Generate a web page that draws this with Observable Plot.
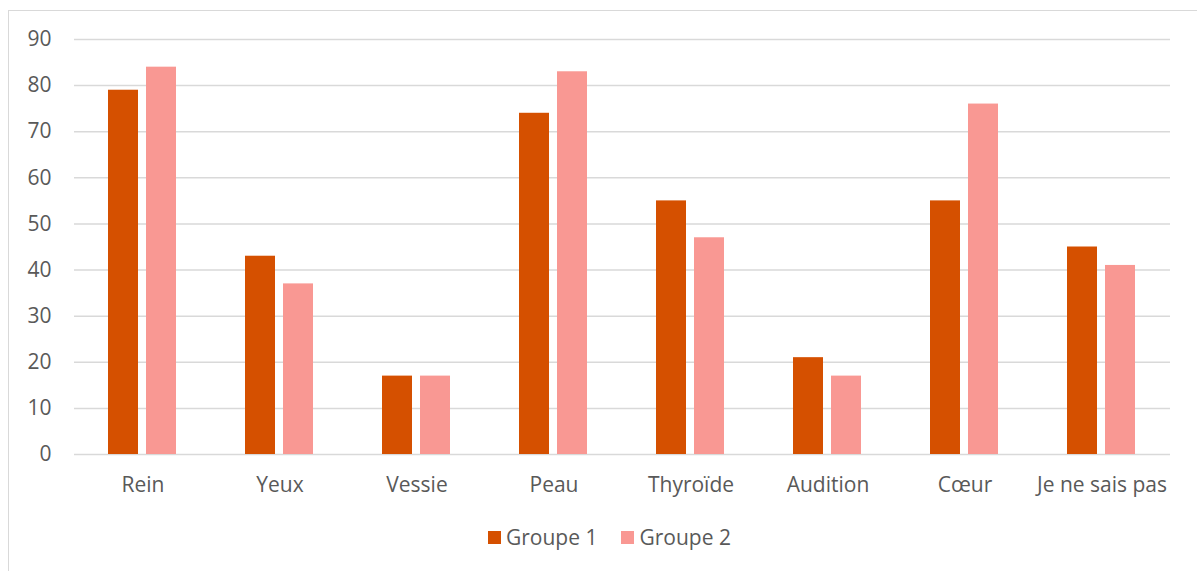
<!DOCTYPE html>
<html>
<head>
<meta charset="utf-8">
<script src="https://cdn.jsdelivr.net/npm/d3@7"></script>
<script src="https://cdn.jsdelivr.net/npm/@observablehq/plot@0.6"></script>
<style>
  html, body { margin: 0; padding: 0; background: #fff; width: 1197px; height: 571px; overflow: hidden; }
  body { position: relative; font-family: "Open Sans", sans-serif; }
  #frame { position: absolute; left: 8px; top: 10px; width: 1400px; height: 800px; border: 1.5px solid #d9d9d9; box-sizing: border-box; }
  #chart { position: absolute; left: 0; top: 0; }
  #legend { position: absolute; left: 488px; top: 523px; display: flex; align-items: center; font-size: 21px; color: #595959; }
  .item { display: flex; align-items: center; margin-right: 24px; }
  .sw { width: 13px; height: 13px; margin-right: 5px; }
</style>
</head>
<body>
<div id="frame"></div>
<div id="chart"></div>
<div id="legend"></div>
<script>
const categories = ["Rein", "Yeux", "Vessie", "Peau", "Thyroïde", "Audition", "Cœur", "Je ne sais pas"];
const groups = ["Groupe 1", "Groupe 2"];
const groupe1 = [79, 43, 17, 74, 55, 21, 55, 45];
const groupe2 = [84, 37, 17, 83, 47, 17, 76, 41];
const colors = ["#D55000", "#F99893"];
const yTicks = [0, 10, 20, 30, 40, 50, 60, 70, 80, 90];

const data = [];
categories.forEach((c, i) => {
  data.push({category: c, group: groups[0], value: groupe1[i]});
  data.push({category: c, group: groups[1], value: groupe2[i]});
});

const font = "'Open Sans', sans-serif";
const chart = Plot.plot({
  width: 1197,
  height: 500,
  marginTop: 39,
  marginBottom: 46,
  marginLeft: 72,
  marginRight: 25,
  style: {fontFamily: font, fontSize: "21px", color: "#595959", background: "transparent"},
  fx: {domain: categories, padding: 0, label: null},
  x: {domain: groups, paddingInner: 0.205, paddingOuter: 0.865, axis: null},
  y: {domain: [0, 90], label: null},
  color: {domain: groups, range: colors},
  marks: [
    Plot.ruleY(yTicks, {stroke: "#d9d9d9", strokeWidth: 1.5}),
    Plot.barY(data, {fx: "category", x: "group", y: "value", fill: "group"}),
    Plot.axisY({ticks: yTicks, tickSize: 0, tickPadding: 23, label: null, fill: "#595959", fontSize: 21, fontWeight: "normal"}),
    Plot.axisFx({anchor: "bottom", tickSize: 0, tickPadding: 23, label: null, fill: "#595959", fontSize: 21, fontWeight: "normal"})
  ]
});
document.getElementById("chart").appendChild(chart);

const legend = document.getElementById("legend");
groups.forEach((g, i) => {
  const item = document.createElement("div");
  item.className = "item";
  const sw = document.createElement("div");
  sw.className = "sw";
  sw.style.background = colors[i];
  const t = document.createElement("span");
  t.textContent = g;
  item.appendChild(sw);
  item.appendChild(t);
  legend.appendChild(item);
});
</script>
</body>
</html>
